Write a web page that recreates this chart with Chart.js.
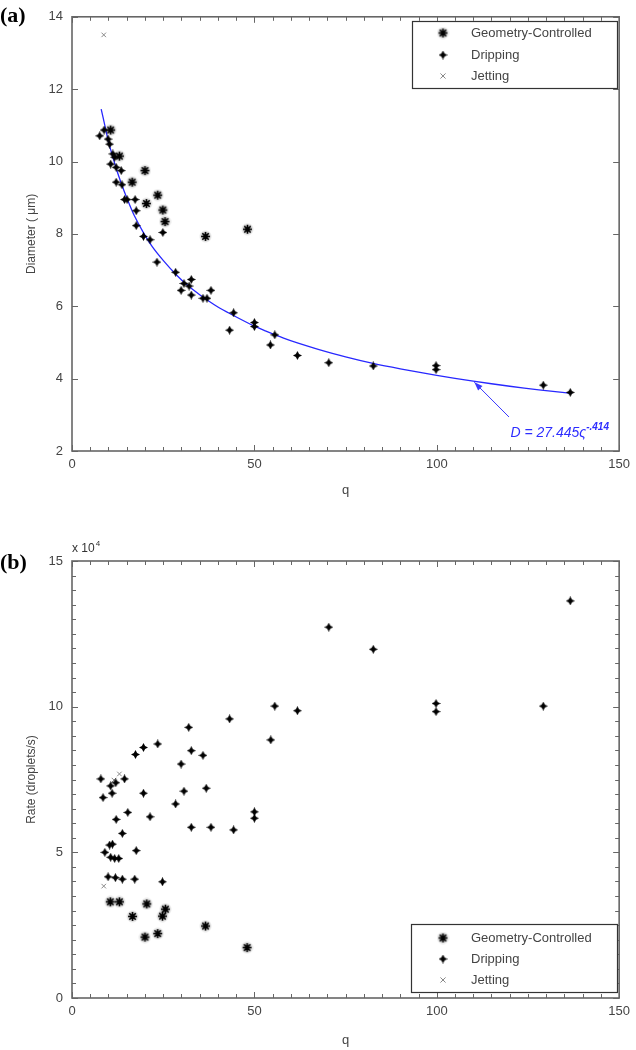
<!DOCTYPE html>
<html>
<head>
<meta charset="utf-8">
<script src="https://cdn.jsdelivr.net/npm/chart.js@4.4.1/dist/chart.umd.min.js"></script>
<style>
  body { margin: 0; background: #fff; width: 636px; height: 1050px; overflow: hidden; position: relative; }
  .panel { position: absolute; left: 0; width: 636px; }
  #wrapA { top: 0; height: 515px; }
  #wrapB { top: 515px; height: 535px; }
  .tag { position: absolute; left: 0; font: bold 22px "Liberation Serif", "Times New Roman", serif; color: #000; line-height: 26px; }
</style>
</head>
<body>
<div class="panel" id="wrapA"><canvas id="chartA" width="636" height="515"></canvas></div>
<div class="panel" id="wrapB"><canvas id="chartB" width="636" height="535"></canvas></div>
<div class="tag" style="top:2px">(a)</div>
<div class="tag" style="top:549px">(b)</div>
<script>
// ---- (a) droplet diameter (um) vs q ----
const geoQa  = [10.6, 13.0, 16.5, 20.0, 20.4, 23.5, 24.9, 25.5, 36.6, 48.1];
const geoDa  = [10.87, 10.15, 9.43, 9.75, 8.84, 9.07, 8.66, 8.34, 7.93, 8.13];
const dripQa = [7.6, 8.8, 9.9, 10.3, 10.6, 11.2, 11.7, 12.1, 12.1, 13.5, 13.7, 14.4, 15.1, 17.3, 17.6, 17.6,
                19.6, 21.4, 23.3, 24.9, 28.4, 29.9, 30.7, 32.1, 32.7, 32.7, 35.9, 37.0, 38.1, 43.2, 44.3,
                50.0, 50.0, 54.4, 55.6, 61.8, 70.4, 82.6, 99.8, 99.8, 129.2, 136.6];
const dripDa = [10.71, 10.87, 10.62, 10.48, 9.93, 10.21, 10.12, 9.84, 9.43, 9.75, 9.36, 8.95, 8.95, 8.95, 8.64, 8.23,
                7.93, 7.84, 7.22, 8.04, 6.94, 6.44, 6.63, 6.56, 6.74, 6.31, 6.22, 6.22, 6.44, 5.34, 5.82,
                5.55, 5.44, 4.93, 5.21, 4.64, 4.44, 4.35, 4.36, 4.25, 3.82, 3.62];
const jetQa  = [8.7];
const jetDa  = [13.5];
// fitted curve
const fitQ = [8, 9, 10, 12, 13.5, 15, 17, 19.5, 22, 25, 28.5, 32, 35, 40, 44, 50, 53, 58, 62, 67.5, 75, 82.5, 90, 100, 110, 120, 128, 137];
const fitD = [11.45, 11.0, 10.55, 9.85, 9.4, 9.0, 8.52, 8.05, 7.65, 7.27, 6.88, 6.55, 6.32, 5.98, 5.76, 5.45, 5.32, 5.12,
              4.98, 4.81, 4.6, 4.42, 4.27, 4.09, 3.93, 3.79, 3.69, 3.59];

// ---- (b) generation rate (droplets/s) vs q ----
const geoQb  = [10.5, 13.0, 16.6, 20.0, 20.5, 23.5, 24.8, 25.6, 36.6, 48.0];
const geoRb  = [33000, 33000, 28000, 20900, 32300, 22100, 28100, 30500, 24700, 17300];
const dripQb = [7.9, 8.5, 9.0, 9.9, 10.3, 10.6, 10.6, 11.0, 11.1, 11.7, 11.9, 12.0, 12.1, 12.8, 13.8, 13.8,
                14.4, 15.3, 17.2, 17.4, 17.6, 19.6, 19.6, 21.4, 23.5, 24.8, 28.4, 29.9, 30.7, 32.0, 32.7, 32.7,
                35.9, 36.8, 38.1, 43.2, 44.3, 50.0, 50.0, 54.5, 55.6, 61.8, 70.4, 82.6, 99.8, 99.8, 129.2, 136.6];
const dripRb = [75200, 68800, 50000, 41600, 52500, 72800, 48300, 70300, 52800, 47900, 41300, 73900, 61300, 47900, 56500, 40800,
                75200, 63700, 40800, 83600, 50600, 86000, 70300, 62200, 87200, 39900, 66600, 80300, 71000, 92900, 84900, 58600,
                83300, 72000, 58600, 95800, 57700, 63900, 61700, 88600, 100200, 98600, 127300, 119700, 101100, 98300, 100200, 136300];
const jetQb  = [8.7, 11.5, 13.0];
const jetRb  = [38400, 74800, 76900];

const FONT = '"Liberation Sans", Arial, sans-serif';
const pts = (xs, ys) => xs.map((v, i) => ({ x: v, y: ys[i] }));

// marker images
function dripMarker() {
  const c = document.createElement('canvas');
  c.width = c.height = 9;
  const g = c.getContext('2d');
  g.fillStyle = '#000';
  g.beginPath();
  g.moveTo(4.5, 0); g.lineTo(6.1, 2.9); g.lineTo(9, 4.5); g.lineTo(6.1, 6.1);
  g.lineTo(4.5, 9); g.lineTo(2.9, 6.1); g.lineTo(0, 4.5); g.lineTo(2.9, 2.9);
  g.closePath(); g.fill();
  return c;
}
function geoMarker() {
  const c = document.createElement('canvas');
  c.width = c.height = 13;
  const g = c.getContext('2d');
  const grad = g.createRadialGradient(6.5, 6.5, 1, 6.5, 6.5, 6.5);
  grad.addColorStop(0, 'rgba(0,0,0,0.45)');
  grad.addColorStop(1, 'rgba(0,0,0,0)');
  g.fillStyle = grad;
  g.fillRect(0, 0, 13, 13);
  g.strokeStyle = '#000';
  g.lineWidth = 1.6;
  g.beginPath();
  g.moveTo(6.5, 2); g.lineTo(6.5, 11);
  g.moveTo(2, 6.5); g.lineTo(11, 6.5);
  g.moveTo(3.3, 3.3); g.lineTo(9.7, 9.7);
  g.moveTo(9.7, 3.3); g.lineTo(3.3, 9.7);
  g.stroke();
  g.fillStyle = '#000';
  g.beginPath(); g.arc(6.5, 6.5, 2, 0, Math.PI * 2); g.fill();
  return c;
}
const DRIP = dripMarker();
const GEO = geoMarker();

// box, inward ticks, legend and extra labels
const framePlugin = {
  id: 'frame',
  afterDraw(chart, args, o) {
    const { ctx, chartArea: a, scales: { x, y } } = chart;
    ctx.save();
    ctx.strokeStyle = '#666';
    ctx.lineWidth = 1;
    const line = (x1, y1, x2, y2) => { ctx.beginPath(); ctx.moveTo(x1, y1); ctx.lineTo(x2, y2); ctx.stroke(); };
    const nx = Math.round((x.max - x.min) / o.xMinor);
    for (let i = 0; i <= nx; i++) {
      const v = x.min + i * o.xMinor;
      const px = Math.round(x.getPixelForValue(v)) + 0.5;
      const len = Math.abs(v % o.xMajor) < 1e-9 ? 6 : 4;
      line(px, a.bottom, px, a.bottom - len);
      line(px, a.top, px, a.top + len);
    }
    const ny = Math.round((y.max - y.min) / o.yMinor);
    for (let i = 0; i <= ny; i++) {
      const v = y.min + i * o.yMinor;
      const py = Math.round(y.getPixelForValue(v)) + 0.5;
      const len = Math.abs(v % o.yMajor) < 1e-9 ? 6 : 4;
      line(a.left, py, a.left + len, py);
      line(a.right, py, a.right - len, py);
    }
    ctx.lineWidth = 1.6;
    ctx.strokeRect(a.left, a.top, a.right - a.left, a.bottom - a.top);

    // legend
    const L = o.legend;
    ctx.fillStyle = '#fff';
    ctx.fillRect(L.left, L.top, L.width, L.height);
    ctx.lineWidth = 1.2;
    ctx.strokeStyle = '#333';
    ctx.strokeRect(L.left + 0.5, L.top + 0.5, L.width, L.height);
    ctx.font = '13px ' + FONT;
    ctx.textBaseline = 'middle';
    ctx.textAlign = 'left';
    chart.data.datasets.filter(d => d.label).forEach((d, i) => {
      const ry = L.rows[i];
      if (d.pointStyle instanceof HTMLCanvasElement) {
        ctx.drawImage(d.pointStyle, L.symX - d.pointStyle.width / 2, ry - d.pointStyle.height / 2);
      } else {
        ctx.strokeStyle = d.borderColor;
        ctx.lineWidth = 1;
        const r = d.pointRadius * 0.8;
        line(L.symX - r, ry - r, L.symX + r, ry + r);
        line(L.symX + r, ry - r, L.symX - r, ry + r);
      }
      ctx.fillStyle = '#444';
      ctx.fillText(d.label, L.textX, ry);
    });

    // exponent note
    if (o.exponent) {
      ctx.fillStyle = '#333';
      ctx.textBaseline = 'alphabetic';
      ctx.font = '12px ' + FONT;
      ctx.fillText('x 10', a.left, a.top - 9);
      const w = ctx.measureText('x 10').width;
      ctx.font = '8px ' + FONT;
      ctx.fillText('4', a.left + w + 1, a.top - 15);
    }

    // fit annotation
    if (o.note) {
      const n = o.note;
      const fx = x.getPixelForValue(n.from[0]), fy = y.getPixelForValue(n.from[1]);
      const tx = x.getPixelForValue(n.to[0]), ty = y.getPixelForValue(n.to[1]);
      ctx.strokeStyle = '#3a3aff';
      ctx.fillStyle = '#3a3aff';
      ctx.lineWidth = 1;
      line(fx, fy, tx, ty);
      const ang = Math.atan2(ty - fy, tx - fx);
      ctx.beginPath();
      ctx.moveTo(tx, ty);
      ctx.lineTo(tx - 9 * Math.cos(ang - 0.35), ty - 9 * Math.sin(ang - 0.35));
      ctx.lineTo(tx - 9 * Math.cos(ang + 0.35), ty - 9 * Math.sin(ang + 0.35));
      ctx.closePath(); ctx.fill();
      const lx = x.getPixelForValue(n.at[0]), ly = y.getPixelForValue(n.at[1]);
      ctx.fillStyle = '#2d2dff';
      ctx.textBaseline = 'alphabetic';
      ctx.font = 'italic 14px ' + FONT;
      ctx.fillText(n.text, lx, ly);
      const tw = ctx.measureText(n.text).width;
      ctx.font = 'italic bold 10px ' + FONT;
      ctx.fillText(n.sup, lx + tw, ly - 7);
    }
    ctx.restore();
  }
};

function baseOptions(cfg) {
  return {
    responsive: false,
    animation: false,
    devicePixelRatio: 1,
    layout: { padding: { top: cfg.padTop, right: 13, left: 0, bottom: 0 } },
    plugins: {
      legend: { display: false },
      tooltip: { enabled: false },
      frame: cfg.frame
    },
    scales: {
      x: {
        type: 'linear', min: 0, max: 150,
        grid: { display: false, drawTicks: false }, border: { display: false },
        ticks: { stepSize: 50, padding: 6, color: '#444', font: { family: FONT, size: 13 } },
        title: { display: true, text: 'q', color: '#444', font: { family: FONT, size: 13 }, padding: { top: 0, bottom: cfg.xTitlePad } },
        afterFit: s => { s.height = cfg.xHeight; }
      },
      y: {
        type: 'linear', min: cfg.yMin, max: cfg.yMax,
        grid: { display: false, drawTicks: false }, border: { display: false },
        ticks: { stepSize: cfg.yStep, padding: 9, color: '#444', font: { family: FONT, size: 13 }, callback: cfg.yCallback },
        title: { display: true, text: cfg.yTitle, color: '#444', font: { family: FONT, size: 12 }, padding: { top: 24, bottom: 0 } },
        afterFit: s => { s.width = 72; }
      }
    }
  };
}

const jetStyle = { pointStyle: 'crossRot', pointRadius: 3.2, borderColor: '#888', borderWidth: 1, backgroundColor: '#888' };

new Chart(document.getElementById('chartA'), {
  type: 'scatter',
  data: {
    datasets: [
      { label: 'Geometry-Controlled', data: pts(geoQa, geoDa), pointStyle: GEO, pointRadius: 6 },
      { label: 'Dripping', data: pts(dripQa, dripDa), pointStyle: DRIP, pointRadius: 4 },
      Object.assign({ label: 'Jetting', data: pts(jetQa, jetDa) }, jetStyle),
      { data: pts(fitQ, fitD), showLine: true, pointRadius: 0, borderColor: '#2828ff', borderWidth: 1.3, tension: 0.3, order: 5 }
    ]
  },
  options: baseOptions({
    padTop: 13, xHeight: 64, xTitlePad: 17,
    yMin: 2, yMax: 14, yStep: 2, yTitle: 'Diameter ( \u03bcm)',
    frame: {
      xMinor: 5, xMajor: 50, yMinor: 2, yMajor: 2,
      legend: { left: 412, top: 21, width: 205, height: 67, rows: [33, 55, 76], symX: 443, textX: 471 },
      note: { from: [119.8, 2.94], to: [110.3, 3.9], at: [120.2, 2.4], text: 'D = 27.445\u03c2', sup: '-.414' }
    }
  }),
  plugins: [framePlugin]
});

new Chart(document.getElementById('chartB'), {
  type: 'scatter',
  data: {
    datasets: [
      { label: 'Geometry-Controlled', data: pts(geoQb, geoRb), pointStyle: GEO, pointRadius: 6 },
      { label: 'Dripping', data: pts(dripQb, dripRb), pointStyle: DRIP, pointRadius: 4 },
      Object.assign({ label: 'Jetting', data: pts(jetQb, jetRb) }, jetStyle)
    ]
  },
  options: baseOptions({
    padTop: 46, xHeight: 52, xTitlePad: 2,
    yMin: 0, yMax: 150000, yStep: 50000, yTitle: 'Rate (droplets/s)',
    yCallback: v => v / 10000,
    frame: {
      xMinor: 5, xMajor: 50, yMinor: 5000, yMajor: 50000,
      exponent: true,
      legend: { left: 411, top: 409, width: 206, height: 68, rows: [423, 444, 465], symX: 443, textX: 471 }
    }
  }),
  plugins: [framePlugin]
});
</script>
</body>
</html>
